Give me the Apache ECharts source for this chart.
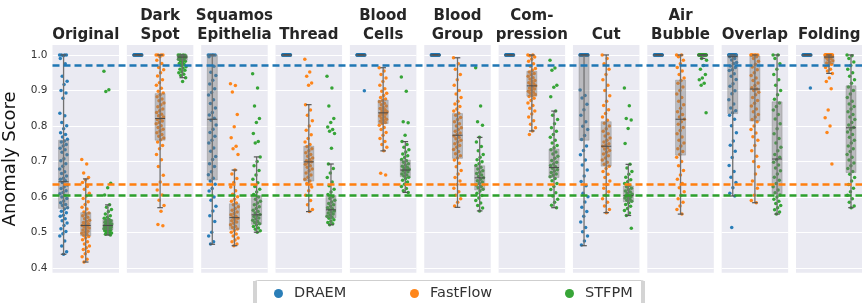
<!DOCTYPE html>
<html>
<head>
<meta charset="utf-8">
<script src="https://cdn.jsdelivr.net/npm/echarts@6/dist/echarts.min.js"></script>
<style>
  html, body { margin: 0; padding: 0; background: #fff; }
  #chart { width: 862px; height: 303px; }
</style>
</head>
<body>
<div id="chart"></div>
<script>
const panelNames = ['Original', 'Dark\nSpot', 'Squamos\nEpithelia', 'Thread', 'Blood\nCells',
  'Blood\nGroup', 'Com-\npression', 'Cut', 'Air\nBubble', 'Overlap', 'Folding'];
const methods = ['DRAEM', 'FastFlow', 'STFPM'];
const colors = ['#1f77b4', '#ff7f0e', '#2ca02c'];
const thresholds = [0.970, 0.635, 0.604];

const draemScores = [
  [1, 1, 1, 1, 0.998, 0.99, 0.975, 0.94, 0.926, 0.917, 0.9, 0.893, 0.878, 0.836, 0.829, 0.81, 0.801, 0.792, 0.781, 0.776, 0.769, 0.763, 0.758, 0.755, 0.748, 0.744, 0.737, 0.733, 0.726, 0.719, 0.708, 0.702, 0.694, 0.687, 0.679, 0.671, 0.666, 0.659, 0.653, 0.65, 0.646, 0.641, 0.634, 0.629, 0.624, 0.618, 0.613, 0.609, 0.604, 0.6, 0.596, 0.589, 0.584, 0.579, 0.576, 0.57, 0.566, 0.56, 0.556, 0.549, 0.546, 0.539, 0.533, 0.527, 0.52, 0.511, 0.503, 0.497, 0.49, 0.476, 0.462, 0.446, 0.439],
  [1, 1, 1, 1, 1, 1, 1, 1, 1, 1, 1, 1, 1, 1, 1, 1, 1, 1, 1, 1, 1, 1, 1, 1, 1, 1, 1, 1, 1, 1],
  [1, 1, 1, 1, 1, 0.995, 0.968, 0.951, 0.942, 0.929, 0.918, 0.905, 0.894, 0.887, 0.874, 0.863, 0.851, 0.838, 0.831, 0.822, 0.816, 0.803, 0.791, 0.782, 0.771, 0.76, 0.752, 0.738, 0.729, 0.714, 0.706, 0.694, 0.686, 0.671, 0.663, 0.653, 0.645, 0.636, 0.624, 0.617, 0.6, 0.591, 0.574, 0.561, 0.547, 0.531, 0.501, 0.49, 0.474, 0.468],
  [1, 1, 1, 1, 1, 1, 1, 1, 1, 1, 1, 1, 1, 1, 1, 1, 1, 1, 1, 1, 1, 1, 1, 1, 1, 1, 1, 1, 1, 1],
  [1, 1, 1, 1, 1, 1, 1, 1, 1, 1, 1, 1, 1, 1, 1, 1, 1, 1, 1, 1, 1, 1, 1, 1, 1, 1, 1, 1, 1, 0.899],
  [1, 1, 1, 1, 1, 1, 1, 1, 1, 1, 1, 1, 1, 1, 1, 1, 1, 1, 1, 1, 1, 1, 1, 1, 1, 1, 1, 1, 1, 1],
  [1, 1, 1, 1, 1, 1, 1, 1, 1, 1, 1, 1, 1, 1, 1, 1, 1, 1, 1, 1, 1, 1, 1, 1, 1, 1, 1, 1, 1, 1],
  [1, 1, 1, 1, 1, 1, 1, 1, 1, 1, 1, 1, 1, 1, 1, 1, 1, 1, 1, 1, 1, 1, 1, 1, 1, 1, 1, 1, 1, 1, 1, 1, 1, 1, 0.901, 0.886, 0.879, 0.861, 0.846, 0.83, 0.812, 0.799, 0.79, 0.773, 0.762, 0.744, 0.731, 0.719, 0.704, 0.69, 0.676, 0.659, 0.644, 0.632, 0.611, 0.601, 0.586, 0.571, 0.559, 0.546, 0.53, 0.514, 0.502, 0.49, 0.476, 0.465],
  [1, 1, 1, 1, 1, 1, 1, 1, 1, 1, 1, 1, 1, 1, 1, 1, 1, 1, 1, 1, 1, 1, 1, 1, 1, 1, 1, 1, 1, 1],
  [1, 1, 1, 1, 1, 1, 1, 1, 1, 1, 1, 1, 1, 1, 1, 1, 1, 1, 0.995, 0.99, 0.986, 0.979, 0.976, 0.969, 0.965, 0.958, 0.956, 0.947, 0.94, 0.931, 0.919, 0.912, 0.899, 0.891, 0.874, 0.862, 0.851, 0.843, 0.837, 0.83, 0.819, 0.801, 0.781, 0.758, 0.746, 0.729, 0.711, 0.689, 0.672, 0.656, 0.641, 0.626, 0.611, 0.603, 0.514],
  [1, 1, 1, 1, 1, 1, 1, 1, 1, 1, 1, 1, 1, 1, 1, 1, 1, 1, 1, 1, 1, 1, 1, 1, 1, 1, 1, 1, 1, 0.907]
];
const fastflowScores = [
  [0.706, 0.693, 0.668, 0.655, 0.648, 0.641, 0.63, 0.622, 0.611, 0.603, 0.596, 0.587, 0.579, 0.571, 0.566, 0.558, 0.555, 0.551, 0.547, 0.543, 0.539, 0.535, 0.532, 0.528, 0.525, 0.522, 0.52, 0.518, 0.516, 0.513, 0.51, 0.507, 0.504, 0.501, 0.498, 0.495, 0.492, 0.489, 0.485, 0.48, 0.474, 0.468, 0.462, 0.457, 0.452, 0.447, 0.44, 0.432, 0.425, 0.417],
  [1, 1, 1, 1, 0.995, 0.985, 0.976, 0.965, 0.958, 0.95, 0.941, 0.93, 0.922, 0.915, 0.906, 0.898, 0.893, 0.888, 0.882, 0.876, 0.871, 0.865, 0.86, 0.854, 0.848, 0.843, 0.838, 0.833, 0.829, 0.825, 0.821, 0.818, 0.814, 0.81, 0.806, 0.801, 0.796, 0.791, 0.786, 0.781, 0.776, 0.771, 0.766, 0.761, 0.755, 0.745, 0.736, 0.72, 0.705, 0.686, 0.661, 0.642, 0.62, 0.606, 0.591, 0.576, 0.56, 0.523, 0.519],
  [0.919, 0.914, 0.896, 0.832, 0.798, 0.767, 0.743, 0.736, 0.72, 0.676, 0.665, 0.652, 0.641, 0.628, 0.618, 0.608, 0.601, 0.594, 0.588, 0.583, 0.578, 0.573, 0.568, 0.563, 0.558, 0.554, 0.55, 0.546, 0.543, 0.54, 0.537, 0.533, 0.53, 0.526, 0.522, 0.518, 0.514, 0.51, 0.506, 0.501, 0.496, 0.49, 0.485, 0.479, 0.474, 0.468, 0.463],
  [0.988, 0.952, 0.94, 0.921, 0.915, 0.86, 0.845, 0.83, 0.815, 0.8, 0.788, 0.775, 0.765, 0.755, 0.748, 0.742, 0.736, 0.73, 0.725, 0.72, 0.715, 0.71, 0.706, 0.702, 0.699, 0.696, 0.692, 0.688, 0.684, 0.679, 0.674, 0.668, 0.662, 0.656, 0.65, 0.645, 0.638, 0.628, 0.618, 0.605, 0.59, 0.578, 0.565, 0.559],
  [0.964, 0.955, 0.945, 0.935, 0.925, 0.915, 0.905, 0.898, 0.892, 0.886, 0.88, 0.876, 0.872, 0.868, 0.864, 0.86, 0.856, 0.852, 0.849, 0.846, 0.843, 0.84, 0.838, 0.836, 0.834, 0.831, 0.828, 0.825, 0.822, 0.819, 0.816, 0.813, 0.81, 0.807, 0.802, 0.796, 0.79, 0.782, 0.774, 0.765, 0.756, 0.748, 0.74, 0.73, 0.667, 0.662],
  [0.992, 0.975, 0.96, 0.945, 0.93, 0.915, 0.9, 0.89, 0.88, 0.87, 0.862, 0.855, 0.848, 0.842, 0.836, 0.83, 0.824, 0.818, 0.812, 0.806, 0.8, 0.795, 0.79, 0.785, 0.78, 0.776, 0.772, 0.768, 0.764, 0.76, 0.755, 0.75, 0.745, 0.74, 0.734, 0.728, 0.722, 0.716, 0.71, 0.704, 0.695, 0.685, 0.675, 0.665, 0.655, 0.645, 0.635, 0.625, 0.615, 0.605, 0.595, 0.585, 0.575],
  [1, 1, 0.998, 0.994, 0.988, 0.982, 0.975, 0.968, 0.962, 0.957, 0.952, 0.948, 0.944, 0.94, 0.936, 0.932, 0.928, 0.925, 0.922, 0.919, 0.916, 0.913, 0.91, 0.907, 0.904, 0.901, 0.898, 0.895, 0.892, 0.889, 0.886, 0.883, 0.878, 0.872, 0.865, 0.858, 0.85, 0.842, 0.834, 0.825, 0.815, 0.805, 0.795, 0.786, 0.776],
  [1, 0.99, 0.975, 0.96, 0.945, 0.93, 0.915, 0.9, 0.885, 0.87, 0.858, 0.846, 0.835, 0.825, 0.816, 0.808, 0.8, 0.792, 0.785, 0.778, 0.772, 0.766, 0.76, 0.755, 0.75, 0.746, 0.743, 0.739, 0.735, 0.731, 0.726, 0.721, 0.716, 0.71, 0.704, 0.698, 0.692, 0.687, 0.68, 0.672, 0.664, 0.655, 0.645, 0.635, 0.625, 0.615, 0.605, 0.595, 0.585, 0.575, 0.565, 0.556],
  [1, 1, 0.995, 0.985, 0.975, 0.965, 0.955, 0.945, 0.935, 0.928, 0.92, 0.91, 0.9, 0.89, 0.88, 0.87, 0.86, 0.85, 0.84, 0.832, 0.825, 0.819, 0.812, 0.805, 0.796, 0.787, 0.778, 0.769, 0.76, 0.752, 0.744, 0.736, 0.728, 0.72, 0.712, 0.7, 0.688, 0.675, 0.662, 0.65, 0.638, 0.626, 0.615, 0.605, 0.595, 0.585, 0.575, 0.565, 0.552],
  [1, 1, 1, 1, 1, 1, 0.995, 0.99, 0.982, 0.974, 0.966, 0.958, 0.95, 0.942, 0.935, 0.928, 0.921, 0.914, 0.908, 0.904, 0.9, 0.895, 0.888, 0.88, 0.872, 0.864, 0.856, 0.848, 0.84, 0.832, 0.825, 0.818, 0.812, 0.8, 0.79, 0.78, 0.77, 0.76, 0.745, 0.73, 0.715, 0.7, 0.685, 0.665, 0.645, 0.625, 0.605, 0.59, 0.584],
  [1, 1, 1, 1, 1, 1, 1, 1, 1, 1, 1, 1, 1, 1, 1, 0.998, 0.996, 0.994, 0.992, 0.99, 0.987, 0.984, 0.98, 0.977, 0.974, 0.97, 0.965, 0.96, 0.955, 0.948, 0.935, 0.925, 0.905, 0.845, 0.823, 0.8, 0.782, 0.693]
];
const stfpmScores = [
  [0.954, 0.902, 0.897, 0.639, 0.626, 0.606, 0.578, 0.571, 0.565, 0.559, 0.552, 0.547, 0.543, 0.54, 0.537, 0.535, 0.533, 0.531, 0.529, 0.527, 0.526, 0.524, 0.523, 0.522, 0.521, 0.52, 0.519, 0.518, 0.517, 0.516, 0.515, 0.514, 0.513, 0.512, 0.511, 0.51, 0.509, 0.508, 0.507, 0.505, 0.503, 0.501, 0.499, 0.497, 0.495, 0.493],
  [1, 1, 1, 0.999, 0.998, 0.997, 0.996, 0.995, 0.994, 0.993, 0.992, 0.991, 0.99, 0.988, 0.986, 0.984, 0.982, 0.979, 0.976, 0.973, 0.97, 0.967, 0.963, 0.96, 0.957, 0.953, 0.95, 0.946, 0.942, 0.936, 0.925],
  [0.947, 0.907, 0.856, 0.821, 0.81, 0.779, 0.756, 0.752, 0.713, 0.7, 0.688, 0.675, 0.662, 0.65, 0.64, 0.63, 0.622, 0.614, 0.607, 0.6, 0.594, 0.588, 0.583, 0.578, 0.573, 0.568, 0.563, 0.559, 0.555, 0.551, 0.548, 0.545, 0.541, 0.538, 0.535, 0.531, 0.528, 0.525, 0.521, 0.517, 0.513, 0.509, 0.505, 0.501],
  [0.94, 0.907, 0.856, 0.821, 0.81, 0.797, 0.79, 0.785, 0.779, 0.737, 0.693, 0.68, 0.668, 0.655, 0.642, 0.632, 0.622, 0.614, 0.607, 0.601, 0.596, 0.591, 0.586, 0.582, 0.578, 0.574, 0.57, 0.567, 0.564, 0.561, 0.558, 0.555, 0.552, 0.549, 0.546, 0.543, 0.54, 0.536, 0.532, 0.528, 0.525, 0.522],
  [0.938, 0.898, 0.812, 0.809, 0.774, 0.756, 0.748, 0.74, 0.733, 0.727, 0.721, 0.716, 0.711, 0.706, 0.702, 0.698, 0.694, 0.69, 0.687, 0.684, 0.681, 0.678, 0.676, 0.674, 0.671, 0.668, 0.665, 0.662, 0.659, 0.656, 0.652, 0.647, 0.642, 0.636, 0.63, 0.624, 0.618, 0.613],
  [0.964, 0.856, 0.812, 0.802, 0.768, 0.755, 0.742, 0.73, 0.72, 0.712, 0.705, 0.699, 0.694, 0.689, 0.684, 0.679, 0.674, 0.67, 0.666, 0.662, 0.658, 0.654, 0.65, 0.646, 0.642, 0.638, 0.634, 0.63, 0.626, 0.622, 0.617, 0.611, 0.604, 0.597, 0.59, 0.583, 0.576, 0.569, 0.561],
  [0.985, 0.963, 0.957, 0.915, 0.909, 0.882, 0.842, 0.83, 0.818, 0.806, 0.795, 0.785, 0.776, 0.768, 0.76, 0.752, 0.745, 0.739, 0.733, 0.727, 0.721, 0.715, 0.709, 0.703, 0.698, 0.693, 0.689, 0.685, 0.681, 0.677, 0.673, 0.669, 0.665, 0.661, 0.657, 0.652, 0.646, 0.638, 0.63, 0.621, 0.612, 0.603, 0.594, 0.585, 0.577, 0.57],
  [0.907, 0.857, 0.821, 0.817, 0.793, 0.751, 0.692, 0.682, 0.672, 0.664, 0.656, 0.649, 0.643, 0.638, 0.633, 0.629, 0.625, 0.621, 0.617, 0.614, 0.611, 0.608, 0.605, 0.603, 0.601, 0.599, 0.597, 0.594, 0.591, 0.588, 0.584, 0.579, 0.574, 0.568, 0.562, 0.555, 0.548, 0.512],
  [1, 1, 1, 1, 1, 1, 1, 1, 1, 1, 1, 1, 1, 1, 1, 1, 1, 1, 1, 1, 0.99, 0.985, 0.97, 0.96, 0.945, 0.935, 0.93, 0.92, 0.915, 0.837],
  [1, 1, 0.99, 0.975, 0.96, 0.945, 0.93, 0.915, 0.9, 0.888, 0.875, 0.865, 0.855, 0.845, 0.832, 0.82, 0.806, 0.792, 0.778, 0.765, 0.752, 0.74, 0.73, 0.72, 0.712, 0.705, 0.698, 0.69, 0.682, 0.674, 0.665, 0.656, 0.647, 0.638, 0.629, 0.62, 0.612, 0.606, 0.6, 0.594, 0.588, 0.582, 0.576, 0.57, 0.564, 0.558, 0.552],
  [1, 0.998, 0.99, 0.98, 0.97, 0.96, 0.95, 0.94, 0.93, 0.92, 0.91, 0.9, 0.89, 0.88, 0.87, 0.862, 0.855, 0.848, 0.84, 0.832, 0.825, 0.818, 0.81, 0.803, 0.796, 0.79, 0.783, 0.776, 0.768, 0.76, 0.752, 0.744, 0.736, 0.728, 0.72, 0.712, 0.704, 0.696, 0.688, 0.68, 0.672, 0.664, 0.655, 0.645, 0.635, 0.625, 0.615, 0.605, 0.595, 0.585, 0.575, 0.57]
];

// box stats: [low whisker, q1, median, q3, high whisker]
const draemBox = [
  [0.439, 0.568, 0.643, 0.760, 1.0], [1, 1, 1, 1, 1], [0.467, 0.648, 0.819, 1.0, 1.0],
  [1, 1, 1, 1, 1], [1, 1, 1, 1, 1], [1, 1, 1, 1, 1], [1, 1, 1, 1, 1],
  [0.463, 0.760, 1.0, 1.0, 1.0], [1, 1, 1, 1, 1], [0.603, 0.835, 0.995, 1.0, 1.0], [1, 1, 1, 1, 1]
];
const fastflowBox = [
  [0.417, 0.491, 0.520, 0.556, 0.651], [0.570, 0.760, 0.821, 0.891, 1.0], [0.463, 0.509, 0.542, 0.581, 0.676],
  [0.559, 0.645, 0.699, 0.743, 0.860], [0.730, 0.807, 0.837, 0.873, 0.964], [0.571, 0.709, 0.774, 0.835, 0.992],
  [0.786, 0.884, 0.913, 0.954, 1.0], [0.556, 0.687, 0.743, 0.812, 1.0], [0.552, 0.718, 0.819, 0.929, 1.0],
  [0.584, 0.814, 0.904, 0.997, 1.0], [0.948, 0.976, 0.994, 0.997, 1.0]
];
const stfpmBox = [
  [0.493, 0.508, 0.520, 0.536, 0.578], [0.936, 0.985, 0.994, 1.0, 1.0], [0.501, 0.523, 0.550, 0.604, 0.713],
  [0.522, 0.542, 0.564, 0.604, 0.693], [0.613, 0.657, 0.676, 0.704, 0.756], [0.561, 0.620, 0.654, 0.688, 0.768],
  [0.570, 0.655, 0.683, 0.735, 0.842], [0.548, 0.587, 0.604, 0.631, 0.692], [0.990, 0.998, 1.0, 1.0, 1.0],
  [0.552, 0.609, 0.707, 0.868, 1.0], [0.570, 0.669, 0.795, 0.913, 1.0]
];

const font = 'DejaVu Sans';
const yMin = 0.387, yMax = 1.028;
const panelLeft = 52.5, panelStep = 74.35, panelWidth = 66.5, plotTop = 45, plotHeight = 227.7;

const chart = echarts.init(document.getElementById('chart'));

function jitter(i) {
  return (((i * 0.618034) % 1) - 0.5) * 0.36;
}

function renderBox(params, api) {
  const x = api.value(0);
  const lo = api.coord([x, api.value(1)]);
  const q1 = api.coord([x, api.value(2)]);
  const md = api.coord([x, api.value(3)]);
  const q3 = api.coord([x, api.value(4)]);
  const hi = api.coord([x, api.value(5)]);
  const cx = lo[0], bw = 5, cw = 2.8;
  return {
    type: 'group',
    children: [
      {type: 'line', shape: {x1: cx, y1: hi[1], x2: cx, y2: lo[1]}, style: {stroke: '#707070', lineWidth: 1.3}},
      {type: 'line', shape: {x1: cx - cw, y1: hi[1], x2: cx + cw, y2: hi[1]}, style: {stroke: '#555', lineWidth: 1.2}},
      {type: 'line', shape: {x1: cx - cw, y1: lo[1], x2: cx + cw, y2: lo[1]}, style: {stroke: '#555', lineWidth: 1.2}},
      {type: 'rect', shape: {x: cx - bw, y: q3[1], width: 2 * bw, height: Math.max(q1[1] - q3[1], 1)},
        style: {fill: 'rgba(120,120,120,0.42)', stroke: 'rgba(120,120,120,0.35)', lineWidth: 1}},
      {type: 'line', shape: {x1: cx - bw, y1: md[1], x2: cx + bw, y2: md[1]}, style: {stroke: '#4a4a4a', lineWidth: 1}}
    ]
  };
}

const grids = [], xAxes = [], yAxes = [], titles = [], series = [];
const allScores = [draemScores, fastflowScores, stfpmScores];
const allBoxes = [draemBox, fastflowBox, stfpmBox];

panelNames.forEach((name, p) => {
  const left = panelLeft + p * panelStep;
  grids.push({left: left, top: plotTop, width: panelWidth, height: plotHeight,
    show: true, backgroundColor: '#eaeaf2', borderWidth: 0});
  xAxes.push({type: 'category', gridIndex: p, data: methods, boundaryGap: true,
    axisLine: {show: false}, axisTick: {show: false}, axisLabel: {show: false}, splitLine: {show: false}});
  xAxes.push({type: 'value', gridIndex: p, min: -0.5, max: 2.5, show: false});
  yAxes.push({
    type: 'value', gridIndex: p, min: yMin, max: yMax,
    axisLine: {show: false}, axisTick: {show: false},
    splitLine: {show: true, showMinLine: false, showMaxLine: false, lineStyle: {color: '#fff', width: 1}},
    axisLabel: {show: p === 0, showMinLabel: false, showMaxLabel: false, margin: 5,
      fontFamily: font, fontSize: 10.5, color: '#333', formatter: v => v.toFixed(1)},
    name: p === 0 ? 'Anomaly Score' : '',
    nameLocation: 'middle', nameGap: 33,
    nameTextStyle: {fontFamily: font, fontSize: 18, color: '#111'}
  });
  const lines = name.split('\n').length;
  titles.push({
    text: name, left: left + panelWidth / 2, textAlign: 'center',
    top: lines === 2 ? 6.5 : 25.5, padding: 0,
    textStyle: {fontFamily: font, fontSize: 15, fontWeight: 'bold', color: '#262626', lineHeight: 19}
  });
  methods.forEach((m, k) => {
    series.push({
      type: 'scatter', name: m, xAxisIndex: 2 * p + 1, yAxisIndex: p,
      symbolSize: 3.5, silent: true, z: 2,
      itemStyle: {color: colors[k], opacity: 0.95},
      data: allScores[k][p].map((v, i) => [k + jitter(i), v])
    });
  });
  series.push({
    type: 'custom', xAxisIndex: 2 * p, yAxisIndex: p, silent: true, z: 3,
    renderItem: renderBox,
    encode: {x: 0, y: [1, 2, 3, 4, 5]},
    data: methods.map((m, k) => [k].concat(allBoxes[k][p]))
  });
});

// full-width layer for the reference thresholds
grids.push({left: panelLeft, right: 0, top: plotTop, height: plotHeight, show: false});
xAxes.push({type: 'value', gridIndex: 11, min: 0, max: 1, show: false});
yAxes.push({type: 'value', gridIndex: 11, min: yMin, max: yMax, show: false});
thresholds.forEach((t, k) => {
  series.push({
    type: 'line', xAxisIndex: 22, yAxisIndex: 11, silent: true, z: 5,
    showSymbol: false, symbol: 'none',
    lineStyle: {color: colors[k], type: [7, 4], width: 2.5},
    data: [[0, t], [1, t]]
  });
});

const legendX = [274, 410, 565];
const legends = methods.map((m, k) => ({
  data: [m], left: legendX[k], top: 286, padding: 0,
  itemWidth: 9, itemHeight: 9, icon: 'circle', selectedMode: false,
  textStyle: {fontFamily: font, fontSize: 14.5, color: '#333', padding: [0, 0, 0, 6]}
}));

chart.setOption({
  animation: false,
  title: titles,
  grid: grids,
  xAxis: xAxes,
  yAxis: yAxes,
  legend: legends,
  graphic: [
    {type: 'rect', left: 254, top: 280, z: -1, shape: {width: 390, height: 30, r: 3},
      style: {fill: '#fff', stroke: '#cfcfcf', lineWidth: 1}},
    {type: 'rect', left: 253, top: 281, z: -1, shape: {width: 4, height: 24}, style: {fill: '#d4d4d4'}},
    {type: 'rect', left: 641, top: 281, z: -1, shape: {width: 4, height: 24}, style: {fill: '#d4d4d4'}}
  ],
  series: series
});
</script>
</body>
</html>
